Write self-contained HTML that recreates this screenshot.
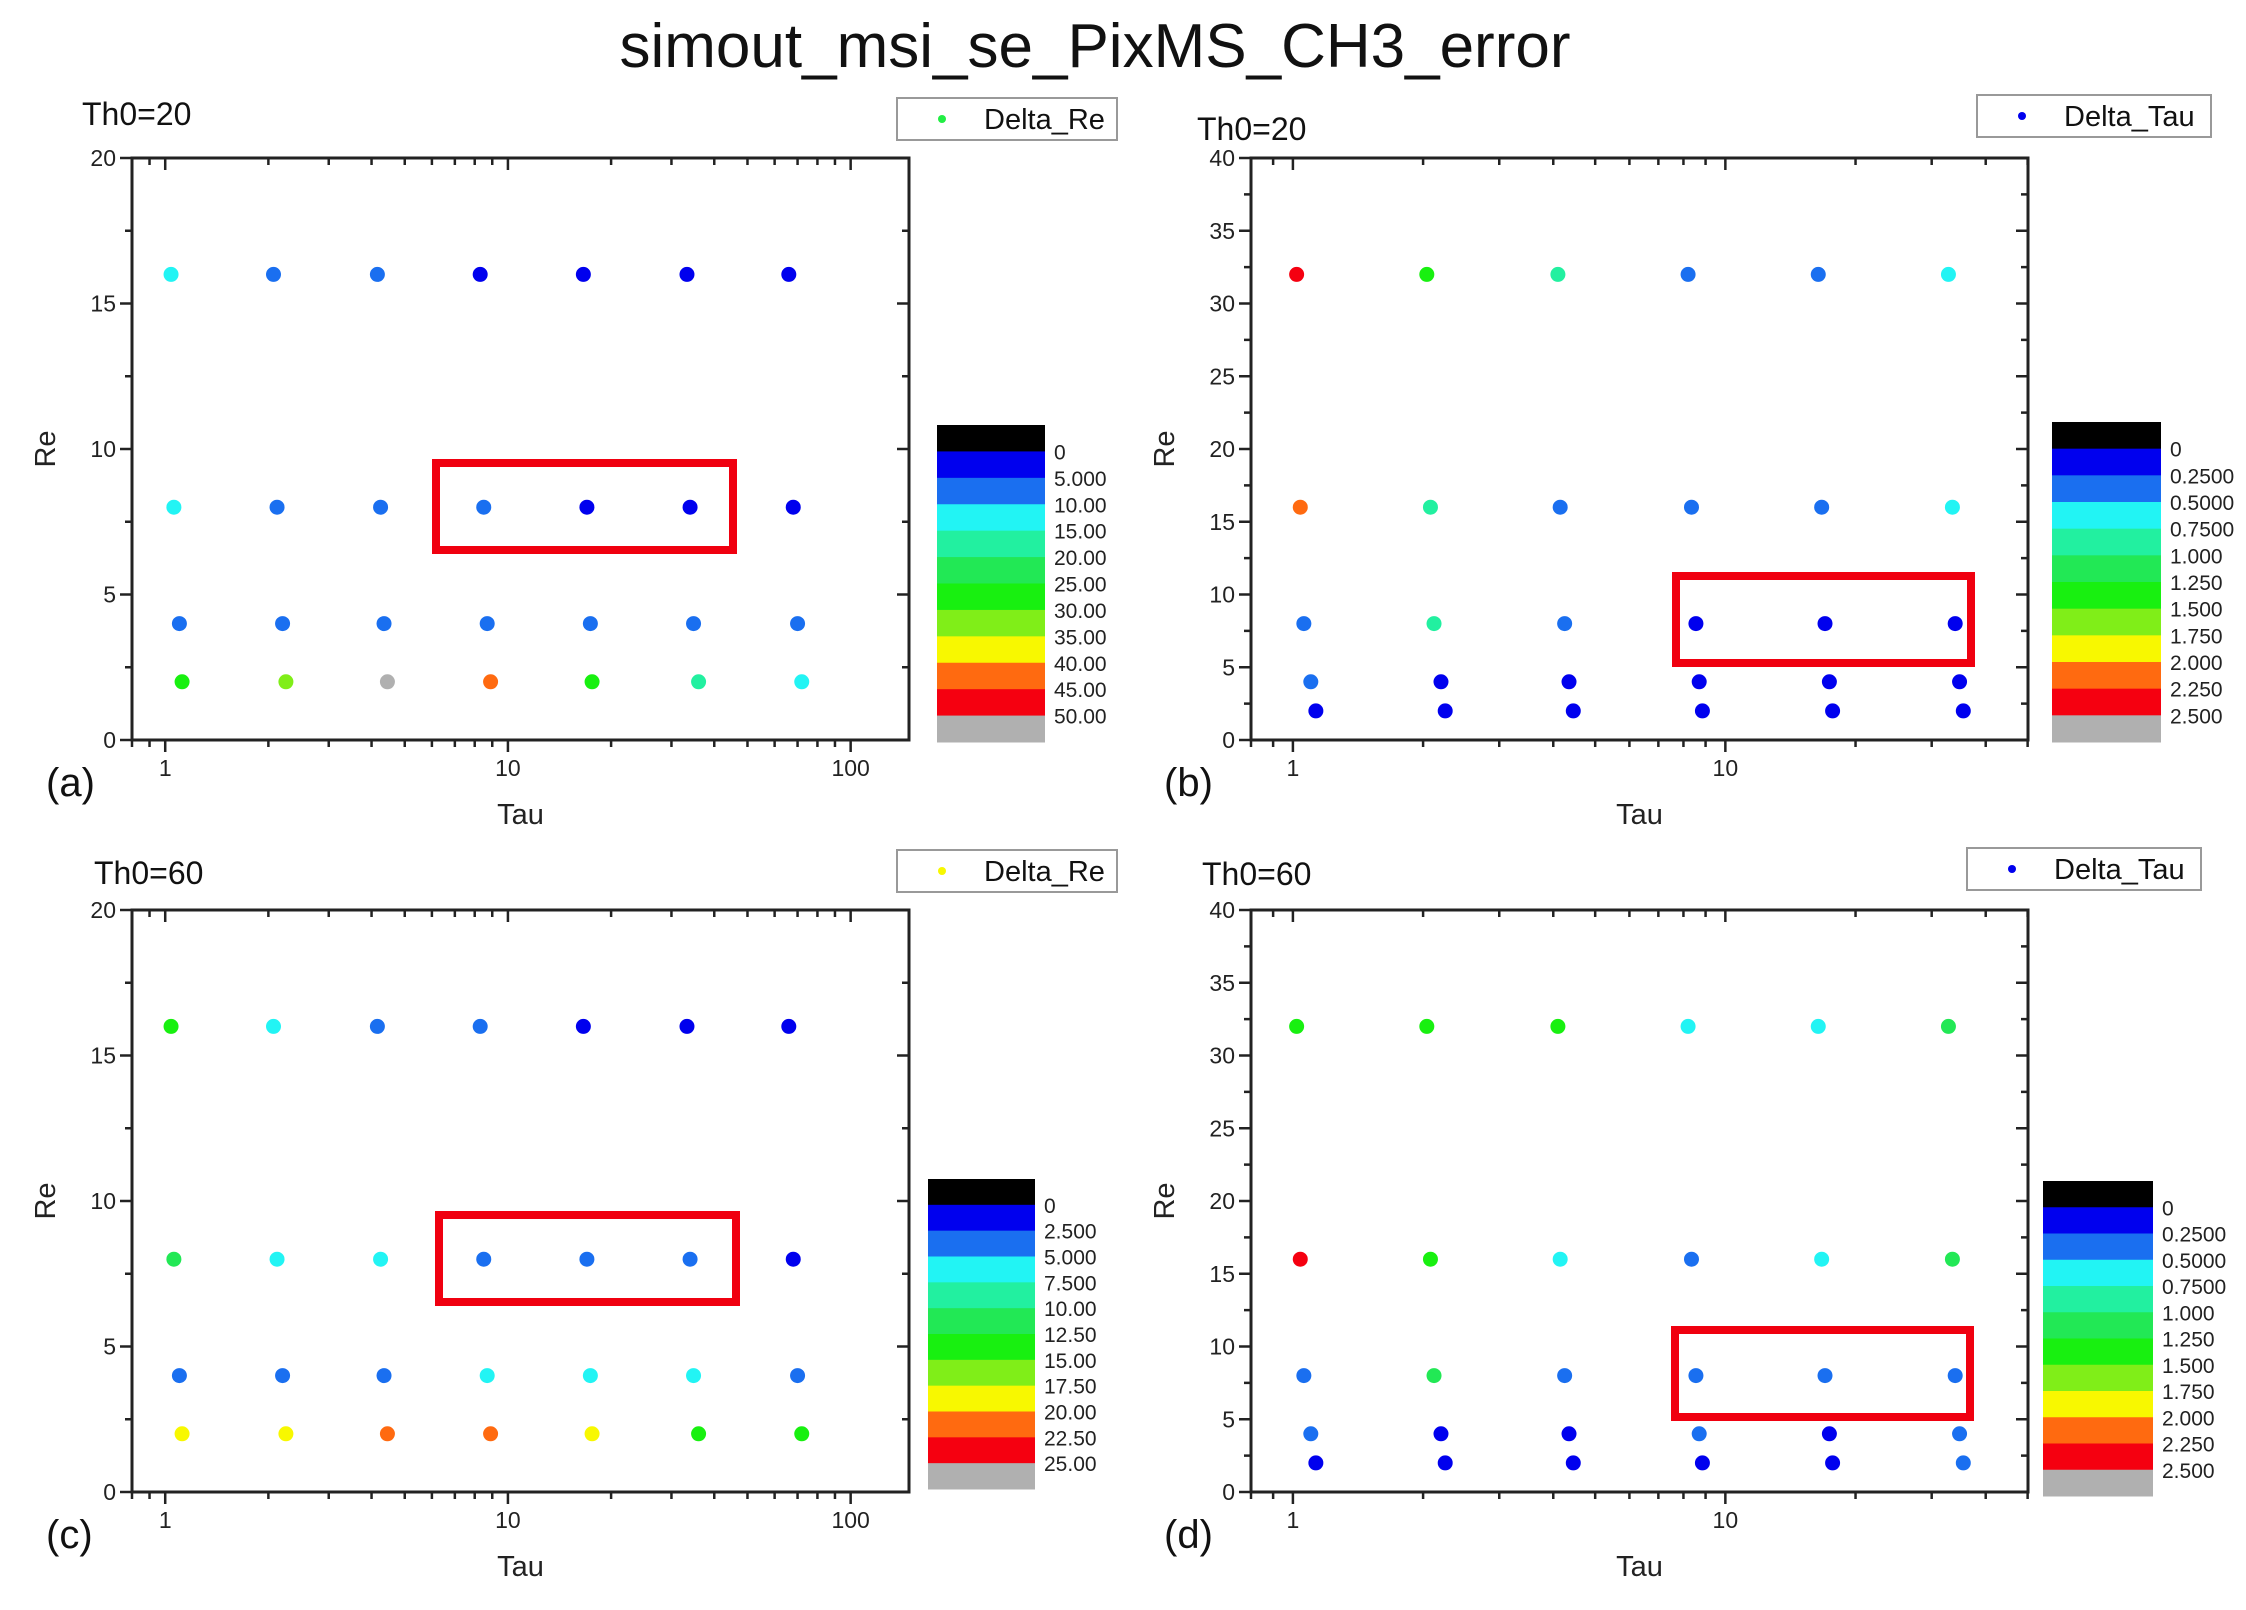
<!DOCTYPE html>
<html><head><meta charset="utf-8"><style>
html,body{margin:0;padding:0;background:#fff;}
svg{display:block;font-family:"Liberation Sans",Arial,sans-serif;}
</style></head><body>
<svg id="fig" width="2246" height="1610" viewBox="0 0 2246 1610" xmlns="http://www.w3.org/2000/svg">
<rect width="2246" height="1610" fill="#fff"/>
<text x="1095" y="67" font-size="62" text-anchor="middle" fill="#111">simout_msi_se_PixMS_CH3_error</text>
</svg>
<script>
const COLORS = ["#000000","#0000ee","#1a6ff0","#22f4f4","#22f0a0","#22e855","#18f010","#80ee18","#f8f800","#ff6a10","#f50010","#b0b0b0"];
// Panel A data (Th0=20, Delta_Re)
const aRe = [16, 8, 4, 2];
const aTau = [[1.04,2.07,4.16,8.3,16.6,33.3,66],[1.06,2.12,4.25,8.5,17.0,34.0,68],[1.1,2.2,4.35,8.7,17.4,34.8,70],[1.12,2.25,4.45,8.9,17.6,36,72]];
const aVal = [[12,7,7,3,3,3,3],[12,7,7,7,3,3,3],[7,7,7,7,7,7,7],[27,32,52,42,27,17,12]];
const aLevels = ["0","5.000","10.00","15.00","20.00","25.00","30.00","35.00","40.00","45.00","50.00"];
// Panel B data (Th0=20, Delta_Tau)
const bRe = [32, 16, 8, 4, 2];
const bTau = [[1.02,2.04,4.1,8.2,16.4,32.8],[1.04,2.08,4.15,8.35,16.7,33.5],[1.06,2.12,4.25,8.55,17.0,34],[1.1,2.2,4.35,8.7,17.4,34.8],[1.13,2.25,4.45,8.85,17.7,35.5]];
const bVal = [[2.4,1.4,0.9,0.4,0.4,0.6],[2.1,0.9,0.4,0.4,0.4,0.6],[0.4,0.9,0.4,0.1,0.1,0.1],[0.4,0.1,0.1,0.1,0.1,0.1],[0.1,0.1,0.1,0.1,0.1,0.1]];
const bLevels = ["0","0.2500","0.5000","0.7500","1.000","1.250","1.500","1.750","2.000","2.250","2.500"];
// Panel C data (Th0=60, Delta_Re)
const cRe = [16, 8, 4, 2];
const cTau = aTau;
const cVal = [[13.5,6,4,4,1,1,1],[11.5,6,6,4,4,4,1],[4,4,4,6,6,6,4],[18.5,18.5,21,21,18.5,13.5,13.5]];
const cLevels = ["0","2.500","5.000","7.500","10.00","12.50","15.00","17.50","20.00","22.50","25.00"];
// Panel D data (Th0=60, Delta_Tau)
const dRe = [32, 16, 8, 4, 2];
const dTau = bTau;
const dVal = [[1.4,1.4,1.4,0.6,0.6,1.1],[2.4,1.4,0.6,0.4,0.6,1.1],[0.4,1.1,0.4,0.4,0.4,0.4],[0.4,0.1,0.1,0.4,0.1,0.4],[0.1,0.1,0.1,0.1,0.1,0.4]];
const dLevels = bLevels;

const NS="http://www.w3.org/2000/svg";
const svg=document.getElementById('fig');
function el(tag,attrs,parent){const e=document.createElementNS(NS,tag);for(const k in attrs)e.setAttribute(k,attrs[k]);(parent||svg).appendChild(e);return e;}
function txt(s,attrs,parent){const e=el('text',attrs,parent);e.textContent=s;return e;}

function panel(p){
  const g=el('g',{});
  
  
  const lx=Math.log10(p.tmin), hx=Math.log10(p.tmax);
  const X=t=>p.x0+(Math.log10(t)-lx)/(hx-lx)*(p.x1-p.x0);
  const Y=r=>p.y1-r/p.reMax*(p.y1-p.y0);
  const fr=el('rect',{x:p.x0,y:p.y0,width:p.x1-p.x0,height:p.y1-p.y0,fill:'none',stroke:'#222','stroke-width':3},g);
  
  
  const step=5, minor=2.5;
  for(let v=0;v<=p.reMax+1e-9;v+=minor){
    const y=Y(v), major=Math.abs(v/step-Math.round(v/step))<1e-6;
    const L=major?12:7;
    el('line',{x1:p.x0-L,y1:y,x2:p.x0,y2:y,stroke:'#222','stroke-width':2.5},g);
    el('line',{x1:p.x1-L,y1:y,x2:p.x1,y2:y,stroke:'#222','stroke-width':2.5},g);
    if(major){const t=txt(String(v),{x:p.x0-16,y:y+8,'font-size':23,'text-anchor':'end',fill:'#222'},g);
      
      }
  }
  for(let d=-1;d<=3;d++){for(let m=1;m<=9;m++){
    const t=m*Math.pow(10,d); if(t<p.tmin||t>p.tmax)continue;
    const x=X(t), major=(m===1), L=major?12:7;
    el('line',{x1:x,y1:p.y1,x2:x,y2:p.y1+L,stroke:'#222','stroke-width':2.5},g);
    el('line',{x1:x,y1:p.y0,x2:x,y2:p.y0+L,stroke:'#222','stroke-width':2.5},g);
    if(major){const tl=txt(String(t),{x:x,y:p.y1+36,'font-size':23,'text-anchor':'middle',fill:'#222'},g);
      
      }
  }}
  const xt=txt('Tau',{x:(p.x0+p.x1)/2,y:p.y1+84,'font-size':29,'text-anchor':'middle',fill:'#222'},g);
  
  
  const yt=txt('Re',{x:0,y:0,'font-size':29,'text-anchor':'middle',fill:'#222',transform:`translate(${p.x0-77},${(p.y0+p.y1)/2}) rotate(-90)`},g);
  
  
  const th=txt(p.th,{x:p.thx,y:p.thy,'font-size':32,fill:'#111'},g);
  
  
  const pl=txt(p.label,{x:p.lbx,y:p.y1+56,'font-size':40,fill:'#111'},g);
  
  
  const bw=parseFloat(p.levels[1]);
  p.re.forEach((r,i)=>{p.tau[i].forEach((t,j)=>{
    const v=p.val[i][j]; let idx=Math.floor(v/bw)+1; if(idx>11)idx=11;
    const c=el('circle',{cx:X(t),cy:Y(r),r:7.5,fill:COLORS[idx]},g);
    
    
  });});
  const rb=el('rect',{x:p.box[0],y:p.box[1],width:p.box[2],height:p.box[3],fill:'none',stroke:'#f00010','stroke-width':8},g);
  
  
  const cb=el('g',{},g);
  
  
  const bh=(p.cb[3]-p.cb[1])/12;
  for(let k=0;k<12;k++) el('rect',{x:p.cb[0],y:p.cb[1]+k*bh,width:p.cb[2]-p.cb[0],height:bh+0.5,fill:COLORS[k]},cb);
  p.levels.forEach((s,k)=>{const t=txt(s,{x:p.cb[2]+9,y:p.cb[1]+(k+1)*bh+8,'font-size':21,fill:'#222'},cb);
    
    });
  const lg=el('g',{},g);
  
  
  el('rect',{x:p.leg[0],y:p.leg[1],width:p.leg[2],height:p.leg[3],fill:'#fff',stroke:'#999','stroke-width':2},lg);
  el('circle',{cx:p.leg[0]+45,cy:p.leg[1]+p.leg[3]/2,r:4,fill:p.legc},lg);
  txt(p.legt,{x:p.leg[0]+87,y:p.leg[1]+p.leg[3]/2+10,'font-size':29,fill:'#111'},lg);
}
panel({id:'a',x0:132,x1:909,y0:158,y1:740,tmin:0.8,tmax:148,reMax:20,re:aRe,tau:aTau,val:aVal,levels:aLevels,
  th:'Th0=20',thx:82,thy:125,label:'(a)',lbx:46,box:[436,463,297,87],cb:[937,425,1045,742],leg:[897,98,220,42],legc:'#22ee44',legt:'Delta_Re'});
panel({id:'b',x0:1251,x1:2028,y0:158,y1:740,tmin:0.8,tmax:50.1,reMax:40,re:bRe,tau:bTau,val:bVal,levels:bLevels,
  th:'Th0=20',thx:1197,thy:140,label:'(b)',lbx:1164,box:[1676,576,295,87],cb:[2052,422,2161,742],leg:[1977,95,234,42],legc:'#0000ee',legt:'Delta_Tau'});
panel({id:'c',x0:132,x1:909,y0:910,y1:1492,tmin:0.8,tmax:148,reMax:20,re:cRe,tau:cTau,val:cVal,levels:cLevels,
  th:'Th0=60',thx:94,thy:884,label:'(c)',lbx:46,box:[439,1215,297,87],cb:[928,1179,1035,1489],leg:[897,850,220,42],legc:'#f8f800',legt:'Delta_Re'});
panel({id:'d',x0:1251,x1:2028,y0:910,y1:1492,tmin:0.8,tmax:50.1,reMax:40,re:dRe,tau:dTau,val:dVal,levels:dLevels,
  th:'Th0=60',thx:1202,thy:885,label:'(d)',lbx:1164,box:[1675,1330,295,87],cb:[2043,1181,2153,1496],leg:[1967,848,234,42],legc:'#0000ee',legt:'Delta_Tau'});
</script>
</body></html>
